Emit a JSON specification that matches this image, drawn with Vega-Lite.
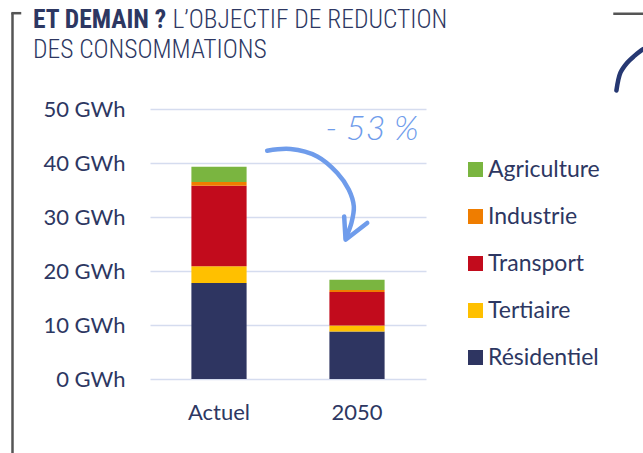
{
  "$schema": "https://vega.github.io/schema/vega-lite/v6.json",
  "width": 276,
  "height": 270,
  "autosize": {"type": "none"},
  "padding": {"left": 150, "top": 109, "right": 217, "bottom": 74},
  "background": "white",
  "title": {
    "text": "ET DEMAIN ?",
    "subtitle": ["\u200b\u2003\u2003\u2003\u2003\u2003\u2002\u2002\u2009L’OBJECTIF DE REDUCTION", "DES CONSOMMATIONS"],
    "anchor": "start",
    "frame": "group",
    "dx": -117,
    "offset": -52,
    "font": "Roboto Condensed, Liberation Sans Narrow, DejaVu Sans Condensed, sans-serif",
    "fontSize": 25.5,
    "fontWeight": "bold",
    "color": "#2d3762",
    "subtitleFont": "Roboto Condensed, Liberation Sans Narrow, DejaVu Sans Condensed, sans-serif",
    "subtitleFontSize": 25.5,
    "subtitleFontWeight": 300,
    "subtitleColor": "#2d3762",
    "subtitleLineHeight": 30,
    "subtitlePadding": -26
  },
  "config": {
    "view": {"stroke": null},
    "axis": {
      "labelFont": "Lato",
      "labelFontSize": 22,
      "labelColor": "#2d3762",
      "domain": false,
      "ticks": false,
      "title": null
    },
    "legend": {
      "labelFont": "Lato",
      "labelFontSize": 23,
      "labelColor": "#2d3762"
    }
  },
  "datasets": {
    "conso": [
      {"periode": "Actuel", "secteur": "Résidentiel", "rang": 1, "gwh": 17.8},
      {"periode": "Actuel", "secteur": "Tertiaire", "rang": 2, "gwh": 3.1},
      {"periode": "Actuel", "secteur": "Transport", "rang": 3, "gwh": 14.9},
      {"periode": "Actuel", "secteur": "Industrie", "rang": 4, "gwh": 0.7},
      {"periode": "Actuel", "secteur": "Agriculture", "rang": 5, "gwh": 2.8},
      {"periode": "2050", "secteur": "Résidentiel", "rang": 1, "gwh": 8.8},
      {"periode": "2050", "secteur": "Tertiaire", "rang": 2, "gwh": 1.1},
      {"periode": "2050", "secteur": "Transport", "rang": 3, "gwh": 6.2},
      {"periode": "2050", "secteur": "Industrie", "rang": 4, "gwh": 0.4},
      {"periode": "2050", "secteur": "Agriculture", "rang": 5, "gwh": 1.9}
    ],
    "fleche": [
      {"u": 0.349, "gwh": 42.28, "ordre": 1},
      {"u": 0.518, "gwh": 42.59, "ordre": 2},
      {"u": 0.712, "gwh": 41.22, "ordre": 3},
      {"u": 0.857, "gwh": 38.15, "ordre": 4},
      {"u": 0.941, "gwh": 35.06, "ordre": 5},
      {"u": 0.977, "gwh": 31.96, "ordre": 6},
      {"u": 0.960, "gwh": 28.94, "ordre": 7},
      {"u": 0.920, "gwh": 26.17, "ordre": 8}
    ],
    "pointe": [
      {"u": 0.907, "gwh": 30.11, "ordre": 1},
      {"u": 0.917, "gwh": 25.8, "ordre": 2},
      {"u": 1.074, "gwh": 28.9, "ordre": 3}
    ],
    "note": [
      {"u": 1.446, "gwh": 44.3, "texte": "- 53 %"}
    ],
    "cadre": [
      {"u": -1.4964, "u2": -1.4964, "g": 67.78, "g2": -15.0},
      {"u": -1.505, "u2": -1.433, "g": 67.74, "g2": 67.74},
      {"u": 2.857, "u2": 3.13, "g": 67.65, "g2": 67.65}
    ],
    "arc": [
      {"u": 2.880, "gwh": 53.44, "ordre": 1},
      {"u": 2.909, "gwh": 56.72, "ordre": 2},
      {"u": 2.958, "gwh": 58.57, "ordre": 3},
      {"u": 3.006, "gwh": 59.74, "ordre": 4},
      {"u": 3.076, "gwh": 61.11, "ordre": 5},
      {"u": 3.127, "gwh": 61.72, "ordre": 6}
    ]
  },
  "resolve": {"scale": {"x": "independent"}},
  "layer": [
    {
      "data": {"name": "conso"},
      "mark": {"type": "bar"},
      "encoding": {
        "x": {
          "field": "periode",
          "type": "nominal",
          "sort": ["Actuel", "2050"],
          "scale": {"paddingInner": 0.6, "paddingOuter": 0.3},
          "axis": {"labelAngle": 0, "labelPadding": 23, "grid": false}
        },
        "y": {
          "field": "gwh",
          "type": "quantitative",
          "aggregate": "sum",
          "stack": "zero",
          "scale": {"domain": [0, 50], "nice": false},
          "axis": {
            "values": [0, 10, 20, 30, 40, 50],
            "labelExpr": "datum.value + ' GWh'",
            "labelPadding": 25,
            "grid": true,
            "gridColor": "#d5dcef",
            "gridWidth": 1.6
          }
        },
        "color": {
          "field": "secteur",
          "type": "nominal",
          "scale": {
            "domain": ["Agriculture", "Industrie", "Transport", "Tertiaire", "Résidentiel"],
            "range": ["#7ab540", "#ef7d00", "#c20b1c", "#ffc000", "#2e3561"]
          },
          "legend": {
            "title": null,
            "orient": "none",
            "legendX": 314,
            "legendY": 49,
            "symbolType": "square",
            "symbolSize": 225,
            "symbolStrokeWidth": 0,
            "labelOffset": 1,
            "rowPadding": 23,
            "padding": 0
          }
        },
        "order": {"field": "rang", "type": "quantitative"}
      }
    },
    {
      "data": {"name": "fleche"},
      "mark": {"type": "line", "interpolate": "catmull-rom", "color": "#6f9ceb", "strokeWidth": 4.5, "strokeCap": "round", "strokeJoin": "round"},
      "encoding": {
        "x": {"field": "u", "type": "quantitative", "scale": {"domain": [-0.5, 1.5], "nice": false, "zero": false}, "axis": null},
        "y": {"field": "gwh", "type": "quantitative", "scale": {"domain": [0, 50], "nice": false}},
        "order": {"field": "ordre", "type": "quantitative"}
      }
    },
    {
      "data": {"name": "pointe"},
      "mark": {"type": "line", "color": "#6f9ceb", "strokeWidth": 4.5, "strokeCap": "round", "strokeJoin": "round"},
      "encoding": {
        "x": {"field": "u", "type": "quantitative", "scale": {"domain": [-0.5, 1.5], "nice": false, "zero": false}, "axis": null},
        "y": {"field": "gwh", "type": "quantitative", "scale": {"domain": [0, 50], "nice": false}},
        "order": {"field": "ordre", "type": "quantitative"}
      }
    },
    {
      "data": {"name": "note"},
      "mark": {"type": "text", "align": "right", "baseline": "alphabetic", "font": "Lato", "fontSize": 34, "fontStyle": "italic", "fontWeight": 300, "color": "#6f9ceb"},
      "encoding": {
        "x": {"field": "u", "type": "quantitative", "scale": {"domain": [-0.5, 1.5], "nice": false, "zero": false}, "axis": null},
        "y": {"field": "gwh", "type": "quantitative", "scale": {"domain": [0, 50], "nice": false}},
        "text": {"field": "texte"}
      }
    },
    {
      "data": {"name": "cadre"},
      "mark": {"type": "rule", "color": "#555555", "strokeWidth": 2.5},
      "encoding": {
        "x": {"field": "u", "type": "quantitative", "scale": {"domain": [-0.5, 1.5], "nice": false, "zero": false}, "axis": null},
        "x2": {"field": "u2"},
        "y": {"field": "g", "type": "quantitative", "scale": {"domain": [0, 50], "nice": false}},
        "y2": {"field": "g2"}
      }
    },
    {
      "data": {"name": "arc"},
      "mark": {"type": "line", "interpolate": "catmull-rom", "color": "#263872", "strokeWidth": 4.5, "strokeCap": "round"},
      "encoding": {
        "x": {"field": "u", "type": "quantitative", "scale": {"domain": [-0.5, 1.5], "nice": false, "zero": false}, "axis": null},
        "y": {"field": "gwh", "type": "quantitative", "scale": {"domain": [0, 50], "nice": false}},
        "order": {"field": "ordre", "type": "quantitative"}
      }
    }
  ]
}
